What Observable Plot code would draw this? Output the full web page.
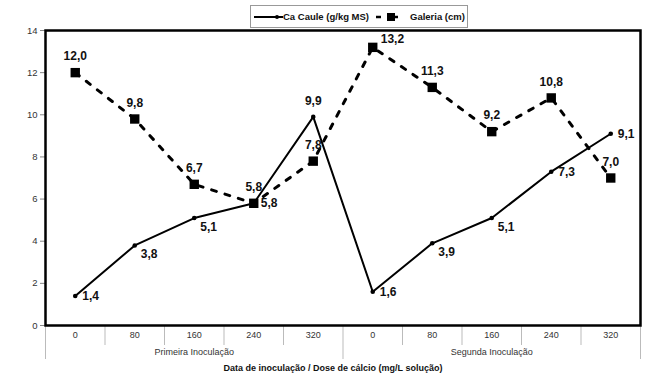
<!DOCTYPE html>
<html>
<head>
<meta charset="utf-8">
<script src="https://cdn.jsdelivr.net/npm/d3@7"></script>
<script src="https://cdn.jsdelivr.net/npm/@observablehq/plot@0.6"></script>
<style>
  body { margin: 0; background: #fff; font-family: "Liberation Sans", Arial, sans-serif; }
  #wrap { position: relative; width: 650px; height: 391px; }
  #legend { position: absolute; left: 250px; top: 5px; width: 218px; height: 23px; border: 1px solid #999; background: #fff;
            font-size: 9.5px; font-weight: bold; color: #111; box-sizing: border-box; z-index: 2; }
  #legend > * { position: absolute; }
  #legend span { top: 5px; white-space: nowrap; }
</style>
</head>
<body>
<div id="wrap">
  <div id="legend">
    <svg width="30" height="10" style="left:2px;top:6px"><line x1="1" y1="5" x2="30" y2="5" stroke="#000" stroke-width="2"/><circle cx="24" cy="5" r="2" fill="#000"/></svg>
    <span style="left:32px">Ca Caule (g/kg MS)</span>
    <svg width="24" height="12" style="left:124px;top:5px"><line x1="1" y1="6" x2="6" y2="6" stroke="#000" stroke-width="2.5"/><rect x="12" y="2" width="8" height="8" fill="#000"/><line x1="20" y1="6" x2="23" y2="6" stroke="#000" stroke-width="2.5"/></svg>
    <span style="left:159px">Galeria (cm)</span>
  </div>
  <div id="chart"></div>
</div>
<script>
const doses = ["0", "80", "160", "240", "320", "0", "80", "160", "240", "320"];
const groups = ["Primeira Inoculação", "Segunda Inoculação"];
const caCaule = [1.4, 3.8, 5.1, 5.8, 9.9, 1.6, 3.9, 5.1, 7.3, 9.1];
const galeria = [12.0, 9.8, 6.7, 5.8, 7.8, 13.2, 11.3, 9.2, 10.8, 7.0];
const caLabelPlace = ["right", "below", "below", "right", "above", "right", "below", "below", "right", "right"];
const galLabelPlace = ["above", "above", "above", "above", "above", "upRight", "above", "above", "above", "above"];
const yTicks = [0, 2, 4, 6, 8, 10, 12, 14];
const xTitle = "Data de inoculação / Dose de cálcio (mg/L solução)";

const fmt = v => v.toFixed(1).replace(".", ",");
const ca = caCaule.map((v, i) => ({i, v, place: caLabelPlace[i]}));
const gal = galeria.map((v, i) => ({i, v, place: galLabelPlace[i]}));
const cats = doses.map((d, i) => ({i, d}));
const grp = groups.map((g, k) => ({i: k * 5 + 2, g}));

const labelStyle = {fontSize: 12, fontWeight: "bold", fill: "#111", text: d => fmt(d.v)};

const chart = Plot.plot({
  width: 650,
  height: 391,
  marginLeft: 45,
  marginRight: 10,
  marginTop: 30,
  marginBottom: 66,
  style: {fontFamily: "Liberation Sans, Arial, sans-serif", background: "#fff"},
  x: {type: "linear", domain: [-0.5, 9.5], axis: null},
  y: {domain: [0, 14], axis: null},
  marks: [
    Plot.axisY({ticks: yTicks, tickSize: 5, tickPadding: 3, fontSize: 9.5, color: "#333", stroke: "#888", label: null}),
    Plot.axisX({ticks: d3.range(0.5, 9, 1).filter(t => t !== 4.5), tickSize: 20, tickFormat: () => "", stroke: "#bbb", label: null}),
    Plot.axisX({ticks: [-0.5, 4.5, 9.5], tickSize: 34, tickFormat: () => "", stroke: "#bbb", label: null}),
    Plot.text(cats, {x: "i", text: "d", frameAnchor: "bottom", dy: 12, fontSize: 9, fill: "#333"}),
    Plot.text(grp, {x: "i", text: "g", frameAnchor: "bottom", dy: 29, fontSize: 9, fill: "#333"}),
    Plot.text([xTitle], {frameAnchor: "bottom", dx: -10, dy: 45, fontSize: 9, fontWeight: "bold", fill: "#111"}),
    Plot.frame({stroke: "#000", strokeWidth: 2.5}),
    Plot.line(gal, {x: "i", y: "v", stroke: "#000", strokeWidth: 3, strokeDasharray: "5,9"}),
    Plot.line(ca, {x: "i", y: "v", stroke: "#000", strokeWidth: 2}),
    Plot.dot(gal, {x: "i", y: "v", symbol: "square", r: 5.3, fill: "#000"}),
    Plot.dot(ca, {x: "i", y: "v", r: 2.3, fill: "#000"}),
    Plot.text(gal.filter(d => d.place === "above"), {x: "i", y: "v", dy: -16, ...labelStyle}),
    Plot.text(gal.filter(d => d.place === "upRight"), {x: "i", y: "v", dx: 8, dy: -8, textAnchor: "start", ...labelStyle}),
    Plot.text(ca.filter(d => d.place === "right"), {x: "i", y: "v", dx: 7, dy: 0, textAnchor: "start", ...labelStyle}),
    Plot.text(ca.filter(d => d.place === "below"), {x: "i", y: "v", dx: 6, dy: 9, textAnchor: "start", ...labelStyle}),
    Plot.text(ca.filter(d => d.place === "above"), {x: "i", y: "v", dy: -16, ...labelStyle})
  ]
});
document.getElementById("chart").appendChild(chart);
</script>
</body>
</html>
